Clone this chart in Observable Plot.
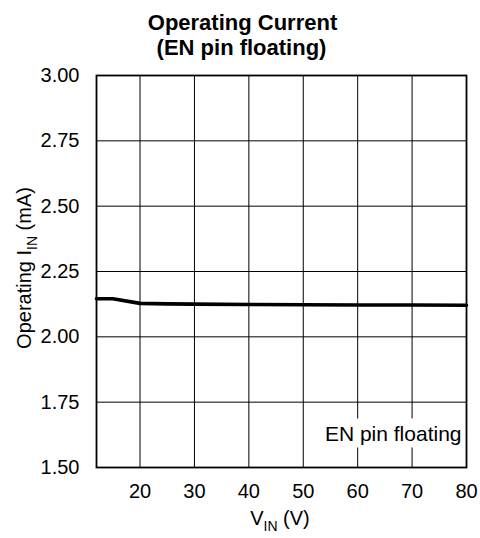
<!DOCTYPE html>
<html>
<head>
<meta charset="utf-8">
<script src="https://cdn.jsdelivr.net/npm/d3@7"></script>
<script src="https://cdn.jsdelivr.net/npm/@observablehq/plot@0.6"></script>
<style>
  html, body { margin: 0; padding: 0; background: #fff; }
  svg { font-family: "Liberation Sans", Arial, sans-serif; }
</style>
</head>
<body>
<div id="chart"></div>
<script>
const vin = [12, 15, 20, 25, 30, 40, 50, 60, 70, 80];
const iin = [2.146, 2.146, 2.128, 2.126, 2.125, 2.124, 2.123, 2.122, 2.122, 2.121];
const xTicks = [20, 30, 40, 50, 60, 70, 80];
const yTicks = [1.50, 1.75, 2.00, 2.25, 2.50, 2.75, 3.00];
const titleLines = ["Operating Current", "(EN pin floating)"];
const annotation = "EN pin floating";

const data = vin.map((v, i) => ({v, i: iin[i]}));

const chart = Plot.plot({
  width: 480,
  height: 538,
  marginLeft: 96,
  marginRight: 14,
  marginTop: 75,
  marginBottom: 71,
  style: {fontFamily: '"Liberation Sans", Arial, sans-serif', fontSize: "20px", background: "#fff", color: "#000"},
  x: {domain: [12, 80], ticks: xTicks, tickFormat: d => String(d), tickSize: 0, tickPadding: 16, label: null},
  y: {domain: [1.5, 3.0], ticks: yTicks, tickFormat: d => d.toFixed(2), tickSize: 0, tickPadding: 17, label: null},
  marks: [
    Plot.gridX(xTicks.filter(d => d < 80), {stroke: "#000", strokeOpacity: 1, strokeWidth: 1}),
    Plot.gridY(yTicks.filter(d => d > 1.5 && d < 3.0), {stroke: "#000", strokeOpacity: 1, strokeWidth: 1}),
    Plot.line(data, {x: "v", y: "i", stroke: "#000", strokeWidth: 3.6}),
    Plot.frame({stroke: "#000", strokeWidth: 1.8}),
    Plot.text([annotation], {frameAnchor: "bottom-right", dx: -5, dy: -27, text: d => d, fontSize: 21, textAnchor: "end", fill: "#000"}),
    Plot.text([titleLines[0]], {frameAnchor: "top", text: d => d, dx: -39, dy: -61, fontSize: 22, fontWeight: "bold", fill: "#000"}),
    Plot.text([titleLines[1]], {frameAnchor: "top", text: d => d, dx: -40, dy: -36, fontSize: 22, fontWeight: "bold", fill: "#000"})
  ]
});

document.getElementById("chart").appendChild(chart);

const svg = d3.select(chart);

// white box behind annotation
const annotText = Array.from(chart.querySelectorAll("text")).find(t => t.textContent === annotation);
if (annotText) {
  const bb = annotText.getBBox();
  const r = document.createElementNS("http://www.w3.org/2000/svg", "rect");
  r.setAttribute("x", bb.x - 5);
  r.setAttribute("y", bb.y - 3);
  r.setAttribute("width", bb.width + 8);
  r.setAttribute("height", bb.height + 6);
  r.setAttribute("fill", "#fff");
  const tr = annotText.getAttribute("transform");
  if (tr) r.setAttribute("transform", tr);
  annotText.parentNode.insertBefore(r, annotText);
}

// axis labels with subscripts
const yl = svg.append("text")
  .attr("transform", "translate(31,268) rotate(-90)")
  .attr("text-anchor", "middle")
  .attr("font-size", 20)
  .attr("fill", "#000");
yl.append("tspan").text("Operating I");
yl.append("tspan").attr("font-size", 14).attr("dy", 6).text("IN");
yl.append("tspan").attr("dy", -6).text(" (mA)");

const xl = svg.append("text")
  .attr("x", 280).attr("y", 525)
  .attr("text-anchor", "middle")
  .attr("font-size", 20)
  .attr("fill", "#000");
xl.append("tspan").text("V");
xl.append("tspan").attr("font-size", 14).attr("dy", 6).text("IN");
xl.append("tspan").attr("dy", -6).text(" (V)");
</script>
</body>
</html>
